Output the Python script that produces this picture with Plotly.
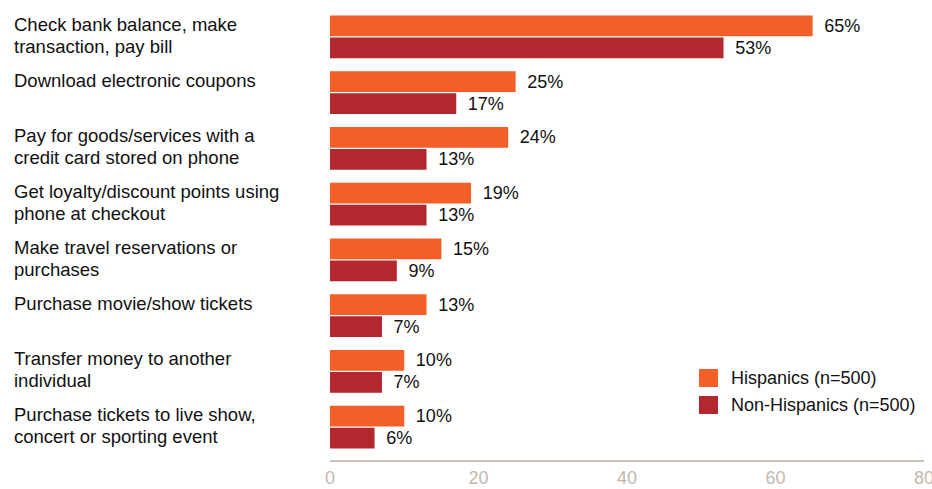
import plotly.graph_objects as go

categories = [
    "Check bank balance, make<br>transaction, pay bill",
    "Download electronic coupons",
    "Pay for goods/services with a<br>credit card stored on phone",
    "Get loyalty/discount points using<br>phone at checkout",
    "Make travel reservations or<br>purchases",
    "Purchase movie/show tickets",
    "Transfer money to another<br>individual",
    "Purchase tickets to live show,<br>concert or sporting event",
]
hispanics = [65, 25, 24, 19, 15, 13, 10, 10]
non_hispanics = [53, 17, 13, 13, 9, 7, 7, 6]
series_names = ["Hispanics (n=500)", "Non-Hispanics (n=500)"]
x_ticks = [0, 20, 40, 60, 80]

ORANGE = "#F35F27"
RED = "#B3272F"
FONT = "Liberation Sans, Arial, sans-serif"
TXT = "#111111"

idx = list(range(len(categories)))

fig = go.Figure()
for name, vals, col in [(series_names[0], hispanics, ORANGE), (series_names[1], non_hispanics, RED)]:
    fig.add_trace(go.Bar(
        y=idx, x=vals, orientation="h", name=name,
        marker=dict(color=col, line=dict(width=0)),
        text=[f"\u2009 {v}%" for v in vals], textposition="outside",
        textfont=dict(size=18, color=TXT, family=FONT),
        cliponaxis=False, showlegend=False, hoverinfo="skip",
    ))

W, H = 932, 489
ml, mr, mt, mb = 330, 8, 9, 29
pw = W - ml - mr
ph = H - mt - mb

BARGAP = 0.21
annotations = []
shapes = []
for i, c in enumerate(categories):
    for j, line in enumerate(c.split("<br>")):
        annotations.append(dict(
            xref="paper", yref="y", x=(12 - ml) / pw, y=i - (1 - BARGAP) / 2,
            xanchor="left", yanchor="top", align="left",
            yshift=3 - 22 * j,
            text=line, showarrow=False,
            font=dict(size=18.5, color=TXT, family=FONT),
        ))

# manual legend
leg_items = [(series_names[0], ORANGE, 369), (series_names[1], RED, 396)]
for name, col, top in leg_items:
    shapes.append(dict(type="rect", xref="paper", yref="paper",
                       x0=(699 - ml) / pw, x1=(718 - ml) / pw,
                       y0=(H - mb - (top + 18)) / ph, y1=(H - mb - top) / ph,
                       fillcolor=col, line=dict(width=0)))
    annotations.append(dict(xref="paper", yref="paper",
                            x=(729 - ml) / pw, y=(H - mb - (top + 9)) / ph,
                            xanchor="left", yanchor="middle", text=name,
                            showarrow=False,
                            font=dict(size=18, color=TXT, family=FONT)))

fig.update_layout(
    width=W, height=H,
    margin=dict(l=ml, r=mr, t=mt, b=mb, autoexpand=False),
    paper_bgcolor="white", plot_bgcolor="white",
    barmode="group", bargap=BARGAP, bargroupgap=0.05,
    font=dict(family=FONT, size=18, color=TXT),
    showlegend=False, hovermode=False,
    annotations=annotations, shapes=shapes,
    xaxis=dict(range=[0, 80], tickvals=x_ticks, showgrid=False, zeroline=False,
               showline=True, linecolor="#C9C0B7", linewidth=2,
               tickfont=dict(size=18, color="#C2B8AE", family=FONT),
               ticks="", ticklabelstandoff=0, ticklabeloverflow="allow",
               fixedrange=True),
    yaxis=dict(range=[7.59, -0.5], showticklabels=False, showgrid=False,
               zeroline=False, showline=False, ticks="", fixedrange=True),
)

fig.write_html("out.html", config={"displayModeBar": False},
               post_script="document.body.style.margin='0';")
